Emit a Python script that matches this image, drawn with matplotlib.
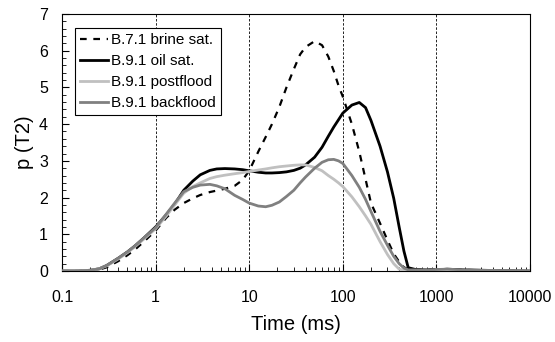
import matplotlib
matplotlib.use('Agg')
import matplotlib.pyplot as plt
from matplotlib.ticker import MultipleLocator, LogLocator, FixedLocator, NullFormatter

plt.rcParams['font.family'] = ['Liberation Sans', 'DejaVu Sans']

# T2 time axis (ms)
time_ms = [0.1, 0.15, 0.2, 0.25, 0.3, 0.4, 0.5, 0.6, 0.75, 1, 1.3, 1.6, 2, 2.5, 3, 3.8,
           4.5, 5.5, 7, 8.5, 10, 12.5, 15, 17.5, 21, 25, 30, 35, 40, 50, 60, 70, 80, 90,
           100, 125, 150, 175, 200, 250, 300, 350, 400, 450, 500, 600, 800, 1000, 1300,
           2000, 3000, 5000, 10000]

brine_sat = [0, 0, 0.01, 0.04, 0.1, 0.27, 0.43, 0.58, 0.8, 1.1, 1.45, 1.67, 1.85, 1.98, 2.07, 2.15,
             2.19, 2.24, 2.32, 2.48, 2.73, 3.25, 3.65, 4.0, 4.47, 5.0, 5.5, 5.9, 6.1, 6.26, 6.15,
             5.84, 5.45, 5.05, 4.75, 4.0, 3.25, 2.5, 1.85, 1.3, 0.84, 0.47, 0.25, 0.1, 0.05, 0.04,
             0.04, 0.05, 0.05, 0.03, 0.02, 0.01, 0]
oil_sat = [0, 0, 0.02, 0.06, 0.15, 0.35, 0.52, 0.68, 0.9, 1.2, 1.53, 1.82, 2.2, 2.45, 2.62, 2.74,
           2.78, 2.79, 2.78, 2.76, 2.73, 2.69, 2.67, 2.67, 2.68, 2.7, 2.74, 2.8, 2.89, 3.1, 3.37,
           3.67, 3.92, 4.12, 4.3, 4.52, 4.59, 4.45, 4.1, 3.4, 2.7, 1.98, 1.2, 0.54, 0.09, 0.04,
           0.03, 0.03, 0.05, 0.03, 0.02, 0.01, 0]
postflood = [0, 0, 0.02, 0.06, 0.14, 0.33, 0.5, 0.66, 0.87, 1.15, 1.5, 1.8, 2.12, 2.3, 2.4, 2.52,
             2.57, 2.61, 2.65, 2.68, 2.71, 2.75, 2.78, 2.81, 2.84, 2.86, 2.88, 2.89, 2.89, 2.82, 2.73,
             2.6, 2.5, 2.4, 2.3, 2.02, 1.75, 1.5, 1.27, 0.8, 0.45, 0.2, 0.05, 0.02, 0.01, 0.01,
             0.01, 0.02, 0.02, 0.01, 0.01, 0, 0]
backflood = [0, 0, 0.02, 0.06, 0.15, 0.35, 0.52, 0.68, 0.9, 1.18, 1.55, 1.85, 2.16, 2.28, 2.34, 2.36,
             2.32, 2.24, 2.06, 1.95, 1.85, 1.77, 1.75, 1.79, 1.88, 2.03, 2.2, 2.4, 2.56, 2.8, 2.96,
             3.03, 3.04, 3.0, 2.93, 2.6, 2.28, 1.95, 1.62, 1.08, 0.7, 0.4, 0.2, 0.08, 0.03, 0.03,
             0.03, 0.04, 0.05, 0.03, 0.02, 0.01, 0]

series = [
    ('B.7.1 brine sat.', brine_sat, 'black', (0, (3, 3)), 1.6),
    ('B.9.1 oil sat.', oil_sat, 'black', '-', 2.0),
    ('B.9.1 postflood', postflood, '#c0c0c0', '-', 2.0),
    ('B.9.1 backflood', backflood, '#808080', '-', 2.0),
]

fig = plt.figure(figsize=(5.55, 3.42), dpi=100)
ax = fig.add_axes([62 / 555, 1 - 271 / 342, 468 / 555, 257 / 342])

for x in [1, 10, 100, 1000]:
    ax.axvline(x, color='black', lw=0.6, ls=(0, (3, 2)), zorder=1)

for label, vals, col, ls, lw in series:
    ax.plot(time_ms, vals, color=col, ls=ls, lw=lw, label=label, zorder=3)

ax.set_xscale('log')
ax.set_xlim(0.1, 10000)
ax.set_ylim(0, 7)
ax.xaxis.set_major_locator(FixedLocator([0.1, 1, 10, 100, 1000, 10000]))
ax.set_xticklabels(['0.1', '1', '10', '100', '1000', '10000'])
ax.xaxis.set_minor_locator(LogLocator(base=10, subs=range(2, 10), numticks=20))
ax.xaxis.set_minor_formatter(NullFormatter())
ax.yaxis.set_major_locator(MultipleLocator(1))
ax.yaxis.set_minor_locator(MultipleLocator(0.2))

ax.tick_params(which='both', direction='in', top=False, right=False, labelsize=11.5)
ax.tick_params(which='major', length=5, width=0.8)
ax.tick_params(which='minor', length=3, width=0.6)
ax.tick_params(axis='x', pad=14)
ax.tick_params(axis='y', pad=10)
for s in ax.spines.values():
    s.set_linewidth(0.8)

ax.set_xlabel('Time (ms)', fontsize=14.5, labelpad=7)
ax.set_ylabel('p (T2)', fontsize=14.5, labelpad=4)

leg = ax.legend(loc='upper left', bbox_to_anchor=(0.028, 0.945), fontsize=11, frameon=True,
                fancybox=False, edgecolor='black', framealpha=1, handlelength=1.8,
                handletextpad=0.2, borderpad=0.35, labelspacing=0.45, borderaxespad=0)
leg.get_frame().set_linewidth(0.8)

fig.savefig('out.png', dpi=100)
